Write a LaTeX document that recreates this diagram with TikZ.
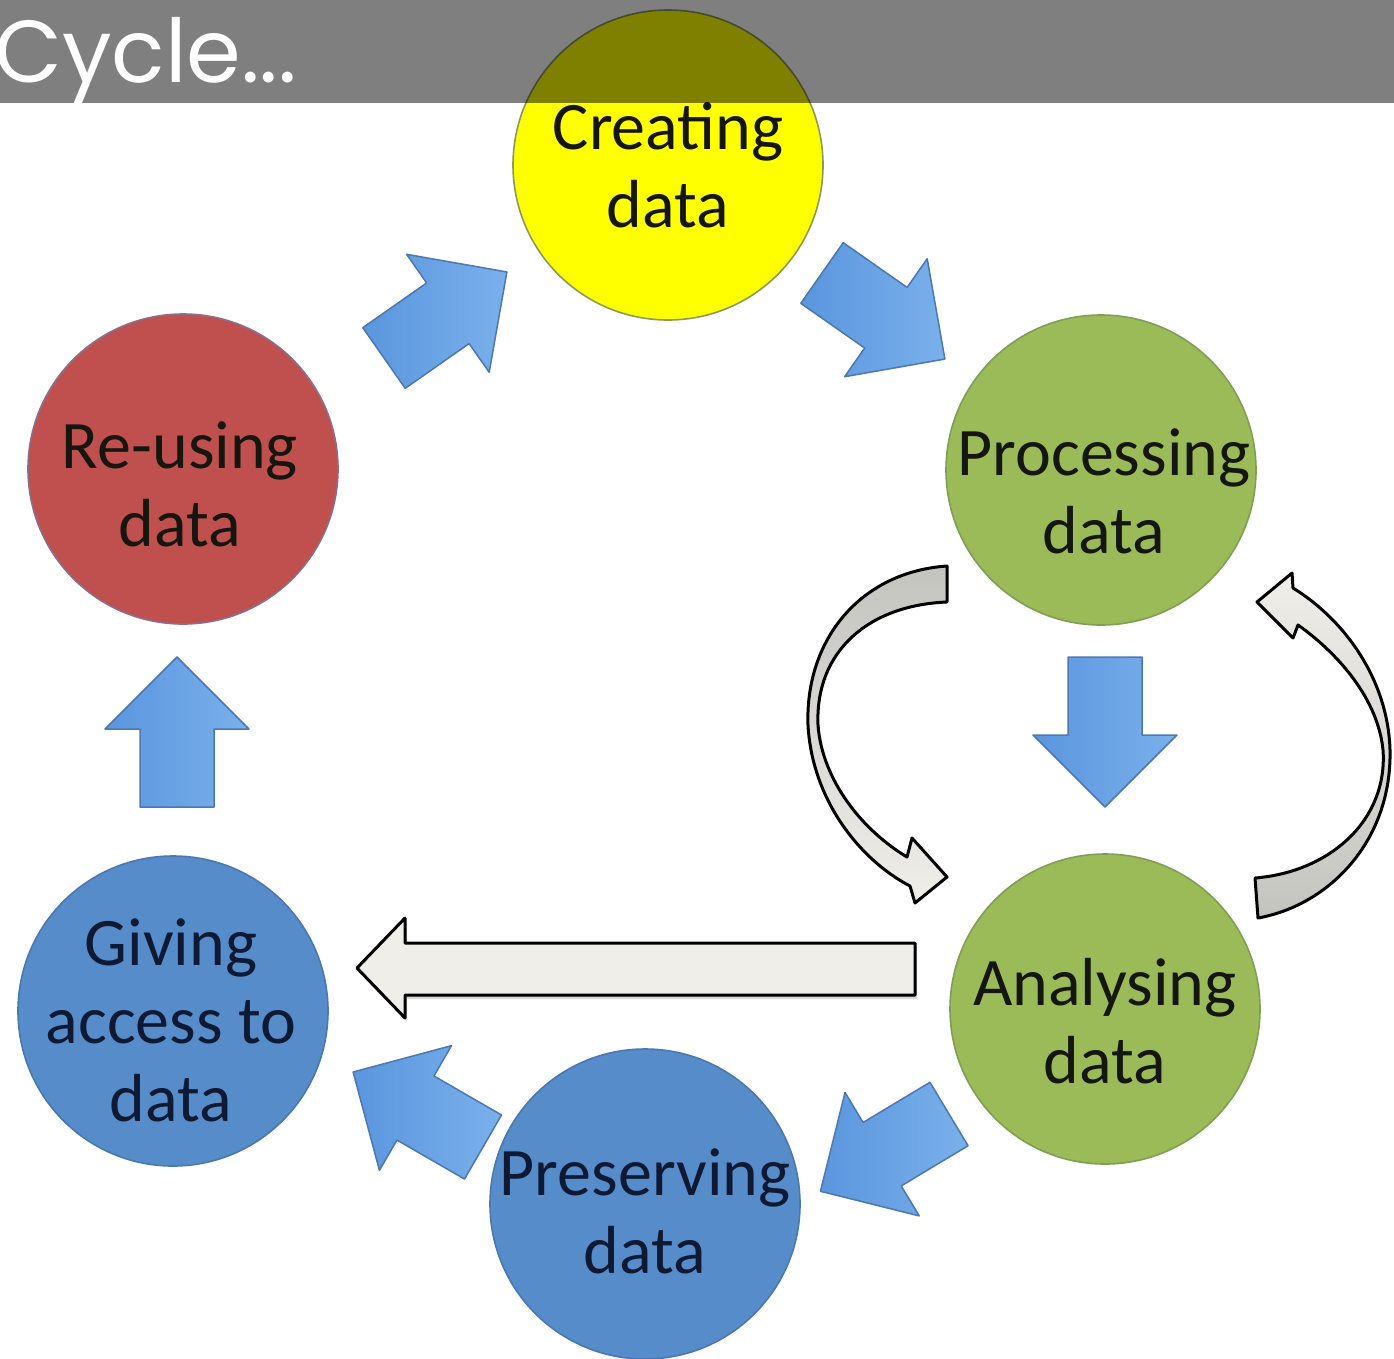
\documentclass[tikz,border=0pt]{standalone}
\usepackage{fontspec}
\setmainfont{Carlito}
\newfontfamily\titlefont{Poppins}
\usetikzlibrary{shadows}
\definecolor{cyellow}{HTML}{FFFF00}
\definecolor{cyellowedge}{HTML}{8A9A5B}
\definecolor{cgreen}{HTML}{9BBB59}
\definecolor{cgreenedge}{HTML}{7F9F55}
\definecolor{cred}{HTML}{C0504D}
\definecolor{crededge}{HTML}{8B6E8C}
\definecolor{cblue}{HTML}{578CCA}
\definecolor{cblueedge}{HTML}{4A78B0}
\definecolor{txtdark}{HTML}{15160F}
\definecolor{txtnavy}{HTML}{0E1A33}
\definecolor{bluedark}{HTML}{5A96DE}
\definecolor{bluelight}{HTML}{7AB0EB}
\definecolor{blueedge}{HTML}{4D78B0}
\definecolor{ribbondark}{HTML}{C4C4BE}
\definecolor{ribbonlight}{HTML}{F0EEE9}
\tikzset{
  stage/.style={circle, minimum size=310pt, inner sep=0pt, line width=1.6pt},
  lbl/.style={align=center, inner sep=0pt, font=\fontsize{68}{78}\selectfont},
  blockarrow/.style={draw=blueedge, line width=1.5pt, line join=round,
    left color=bluedark, right color=bluelight},
  ribbon/.style={draw=black, line width=3pt, line join=round},
  bluearrow/.pic={
    \path[blockarrow] (0,-37) -- (78,-37) -- (78,-72) -- (150,0) -- (78,72)
      -- (78,37) -- (0,37) -- cycle;
  }
}
\begin{document}
\begin{tikzpicture}[x=1pt,y=-1pt]
\useasboundingbox (0,0) rectangle (1394,1358);
\clip (0,0) rectangle (1394,1358);
\fill[white] (0,0) rectangle (1394,1358);

% stages
\node[stage, fill=cyellow, draw=cyellowedge] (cr) at (668,165) {};
\node[stage, fill=cgreen, draw=cgreenedge] (pr) at (1101,470) {};
\node[stage, fill=cgreen, draw=cgreenedge] (an) at (1105,1009) {};
\node[stage, fill=cblue, draw=cblueedge] (pe) at (645,1204) {};
\node[stage, fill=cblue, draw=cblueedge] (gi) at (173,1011) {};
\node[stage, fill=cred, draw=crededge] (re) at (183,469) {};

% labels
\node[lbl, text=txtdark] (crl) at (668,165) {Creating\\data};
\node[lbl, text=txtdark] (prl) at (1104,491) {Processing\\data};
\node[lbl, text=txtdark] (anl) at (1105,1021) {Analysing\\data};
\node[lbl, text=txtnavy] (pel) at (645,1211) {Preserving\\data};
\node[lbl, text=txtnavy] (gil) at (171,1020) {Giving\\access to\\data};
\node[lbl, text=txtdark] (rel) at (180,484) {Re-using\\data};

% blue block arrows between stages
\pic (a1) [rotate=35] at (384,358) {bluearrow};
\pic (a2) [rotate=-35] at (822,273) {bluearrow};
\pic (a3) [rotate=-90] at (1105,657) {bluearrow};
\pic (a4) [rotate=211] at (949,1114) {bluearrow};
\pic (a5) [rotate=150] at (483,1147) {bluearrow};
\pic (a6) [rotate=90] at (177,807) {bluearrow};

% left ribbon arrow (Processing -> Analysing)
\path[ribbon, top color=ribbondark, bottom color=ribbonlight]
  (947,566) .. controls (860,572) and (805,640) .. (808,725)
  .. controls (812,800) and (860,860) .. (910,886)
  -- (915,903) -- (947,877) -- (912,838) -- (907,857)
  .. controls (862,830) and (822,780) .. (818,725)
  .. controls (815,650) and (870,605) .. (947,602) -- cycle;

% right ribbon arrow (Analysing -> Processing)
\path[ribbon, top color=ribbonlight, bottom color=ribbondark]
  (1258,918) .. controls (1330,905) and (1392,840) .. (1390,750)
  .. controls (1388,680) and (1345,620) .. (1293,588)
  -- (1292,573) -- (1257,602) -- (1293,638) -- (1298,625)
  .. controls (1340,655) and (1378,700) .. (1383,750)
  .. controls (1388,820) and (1330,872) .. (1255,878) -- cycle;

% long arrow (Analysing -> Giving access)
\path[ribbon, fill=ribbonlight, drop shadow={opacity=0.3, shadow xshift=2pt, shadow yshift=-4pt}]
  (915,943) -- (405,943) -- (405,918) -- (357,968) -- (405,1018)
  -- (405,995) -- (915,995) -- cycle;

% title bar
\fill[black, opacity=0.5] (0,0) rectangle (1394,103);
\node[anchor=base west, inner sep=0pt, text=white,
  font=\titlefont\fontsize{88}{100}\selectfont] (title) at (-6,82) {Cycle...};
\end{tikzpicture}
\end{document}
